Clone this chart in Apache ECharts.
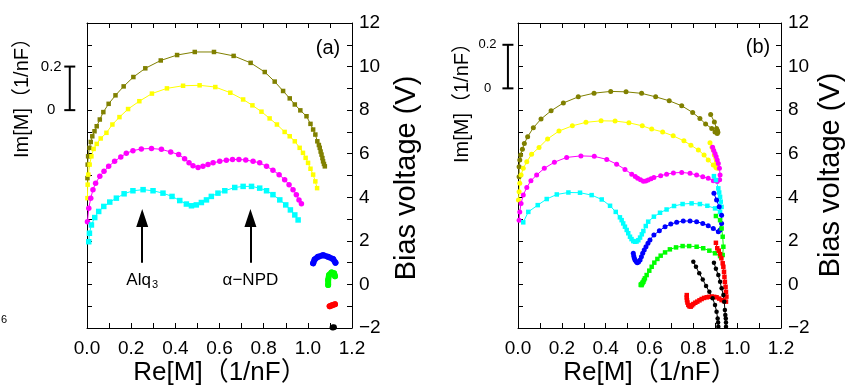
<!DOCTYPE html>
<html><head><meta charset="utf-8">
<script src="https://cdn.jsdelivr.net/npm/echarts@6/dist/echarts.min.js"></script>
<style>html,body{margin:0;padding:0;background:#fff}#c{width:845px;height:390px}</style>
</head><body><div id="c"></div>
<script>
// ---- tick labels ----
const X_LABELS = ['0.0','0.2','0.4','0.6','0.8','1.0','1.2'];
const Y_LABELS = ['\u22122','0','2','4','6','8','10','12'];

// ---- panel (a): [Re[M], bias-offset Im[M] (in bias-voltage axis units)] ----
const A_OLIVE = [[0.002,4.88],[0.003,5.50],[0.005,5.88],[0.011,6.27],[0.017,6.54],[0.024,6.80],[0.034,7.03],[0.044,7.26],[0.058,7.57],[0.074,7.91],[0.098,8.29],[0.129,8.68],[0.166,9.09],[0.210,9.52],[0.264,9.92],[0.334,10.28],[0.408,10.53],[0.488,10.67],[0.575,10.67],[0.664,10.49],[0.741,10.17],[0.805,9.75],[0.850,9.31],[0.888,8.88],[0.918,8.54],[0.941,8.26],[0.966,7.99],[0.994,7.72],[1.012,7.37],[1.024,7.11],[1.034,6.88],[1.043,6.57],[1.050,6.40],[1.054,6.27],[1.058,6.10],[1.062,5.96],[1.066,5.80],[1.069,5.65],[1.073,5.53],[1.077,5.42]];
const A_YELLOW = [[0.002,3.96],[0.003,4.58],[0.006,5.04],[0.012,5.50],[0.020,5.88],[0.030,6.22],[0.044,6.45],[0.062,6.70],[0.088,6.96],[0.115,7.34],[0.147,7.68],[0.186,8.05],[0.237,8.41],[0.294,8.76],[0.362,9.00],[0.435,9.12],[0.510,9.14],[0.581,9.06],[0.649,8.80],[0.707,8.49],[0.749,8.22],[0.790,7.93],[0.827,7.62],[0.860,7.34],[0.895,7.00],[0.918,6.80],[0.941,6.57],[0.963,6.27],[0.978,6.04],[0.990,5.81],[1.001,5.58],[1.012,5.31],[1.024,5.04],[1.034,4.73],[1.042,4.42]];
const A_MAGENTA = [[0.002,2.88],[0.008,3.50],[0.017,3.96],[0.027,4.35],[0.039,4.65],[0.058,4.96],[0.077,5.19],[0.098,5.42],[0.125,5.65],[0.153,5.85],[0.178,6.02],[0.208,6.14],[0.246,6.22],[0.292,6.24],[0.337,6.20],[0.379,6.08],[0.415,5.96],[0.442,5.77],[0.462,5.59],[0.480,5.45],[0.503,5.37],[0.525,5.42],[0.548,5.50],[0.571,5.58],[0.601,5.65],[0.631,5.70],[0.659,5.73],[0.688,5.74],[0.719,5.71],[0.752,5.65],[0.782,5.58],[0.813,5.42],[0.842,5.24],[0.870,5.04],[0.895,4.81],[0.915,4.58],[0.933,4.35],[0.948,4.12],[0.960,3.88],[0.971,3.70]];
const A_CYAN = [[0.008,1.96],[0.011,2.35],[0.020,2.73],[0.035,3.07],[0.053,3.35],[0.076,3.58],[0.103,3.78],[0.133,3.96],[0.168,4.16],[0.208,4.30],[0.254,4.35],[0.299,4.30],[0.344,4.19],[0.385,4.04],[0.420,3.85],[0.450,3.69],[0.473,3.61],[0.495,3.65],[0.518,3.76],[0.541,3.88],[0.563,4.04],[0.593,4.19],[0.624,4.30],[0.669,4.45],[0.707,4.50],[0.745,4.50],[0.782,4.42],[0.813,4.30],[0.842,4.12],[0.873,3.88],[0.900,3.65],[0.921,3.42],[0.941,3.19],[0.956,2.96]];
const A_BLUE = [[1.024,0.97],[1.031,1.15],[1.046,1.27],[1.069,1.34],[1.091,1.27],[1.114,1.17],[1.125,1.00]];
const A_GREEN = [[1.092,-0.03],[1.092,0.20],[1.096,0.43],[1.107,0.55],[1.119,0.51],[1.123,0.38]];
const A_RED = [[1.099,-1.00],[1.111,-0.95],[1.123,-0.91]];
const A_BLACK = [[1.112,-1.98],[1.118,-1.96]];

// ---- panel (b) ----
const B_OLIVE = [[0.005,4.94],[0.005,5.40],[0.008,5.71],[0.012,5.94],[0.020,6.20],[0.029,6.47],[0.044,6.78],[0.070,7.19],[0.105,7.59],[0.151,7.97],[0.207,8.33],[0.275,8.61],[0.347,8.78],[0.423,8.86],[0.493,8.84],[0.564,8.77],[0.628,8.61],[0.690,8.43],[0.747,8.20],[0.797,7.89],[0.830,7.62],[0.856,7.36],[0.884,7.16],[0.899,7.00],[0.909,6.93],[0.912,6.98],[0.910,7.06],[0.906,7.16],[0.896,7.46],[0.879,7.80]];
const B_YELLOW = [[0.002,3.87],[0.005,4.25],[0.008,4.64],[0.014,5.02],[0.024,5.33],[0.040,5.63],[0.062,5.97],[0.096,6.29],[0.135,6.68],[0.187,7.04],[0.248,7.28],[0.310,7.44],[0.379,7.51],[0.443,7.50],[0.506,7.42],[0.567,7.28],[0.610,7.13],[0.660,7.00],[0.708,6.82],[0.757,6.59],[0.789,6.39],[0.823,6.17],[0.849,5.94],[0.868,5.71],[0.891,5.48],[0.903,5.37],[0.909,5.33],[0.909,5.48],[0.906,5.63],[0.903,5.78],[0.896,5.94],[0.891,6.17],[0.885,6.30],[0.876,6.50]];
const B_MAGENTA = [[0.005,2.95],[0.008,3.33],[0.014,3.72],[0.024,4.10],[0.040,4.45],[0.059,4.76],[0.085,5.02],[0.120,5.33],[0.166,5.61],[0.222,5.83],[0.287,5.90],[0.348,5.88],[0.405,5.74],[0.450,5.52],[0.488,5.28],[0.519,5.06],[0.535,4.95],[0.546,4.87],[0.559,4.80],[0.572,4.74],[0.583,4.75],[0.594,4.79],[0.607,4.85],[0.620,4.91],[0.651,4.99],[0.678,5.06],[0.709,5.12],[0.747,5.14],[0.785,5.10],[0.815,5.02],[0.843,4.94],[0.868,4.87],[0.891,4.76],[0.909,4.72],[0.920,4.80],[0.922,5.02],[0.919,5.33],[0.914,5.55],[0.909,5.71],[0.904,5.87],[0.899,6.01],[0.893,6.15],[0.888,6.30]];
const B_CYAN = [[0.024,2.85],[0.047,3.33],[0.090,3.64],[0.131,3.92],[0.177,4.13],[0.230,4.22],[0.283,4.21],[0.336,4.10],[0.382,3.90],[0.420,3.61],[0.446,3.33],[0.465,3.08],[0.473,2.95],[0.480,2.80],[0.488,2.65],[0.496,2.50],[0.503,2.35],[0.511,2.19],[0.518,2.08],[0.526,1.99],[0.534,1.96],[0.541,1.97],[0.549,2.03],[0.557,2.15],[0.565,2.30],[0.572,2.45],[0.583,2.68],[0.594,2.88],[0.620,3.11],[0.648,3.29],[0.678,3.44],[0.712,3.60],[0.751,3.69],[0.792,3.72],[0.830,3.69],[0.864,3.61],[0.899,3.49],[0.922,3.33],[0.929,3.56],[0.925,3.80],[0.922,4.02],[0.918,4.22],[0.914,4.41],[0.903,4.79],[0.894,4.97]];
const B_BLUE = [[0.526,1.43],[0.528,1.30],[0.531,1.20],[0.534,1.12],[0.539,1.05],[0.544,1.00],[0.550,1.03],[0.557,1.12],[0.563,1.27],[0.569,1.43],[0.576,1.58],[0.584,1.73],[0.593,1.89],[0.602,2.04],[0.620,2.27],[0.645,2.46],[0.671,2.65],[0.697,2.77],[0.724,2.85],[0.754,2.91],[0.785,2.91],[0.815,2.88],[0.843,2.80],[0.868,2.69],[0.891,2.57],[0.914,2.42],[0.922,2.50],[0.929,2.80],[0.929,3.18],[0.918,3.56],[0.906,3.87],[0.894,4.18]];
const B_GREEN = [[0.560,-0.02],[0.562,0.00],[0.564,-0.03],[0.566,0.03],[0.568,0.08],[0.572,0.12],[0.575,0.20],[0.579,0.28],[0.587,0.43],[0.599,0.63],[0.610,0.81],[0.622,1.00],[0.636,1.17],[0.651,1.32],[0.671,1.47],[0.693,1.61],[0.721,1.70],[0.751,1.76],[0.781,1.76],[0.815,1.73],[0.845,1.66],[0.873,1.55],[0.899,1.43],[0.922,1.30],[0.934,1.35],[0.937,1.73],[0.934,2.19],[0.929,2.57],[0.922,2.95],[0.903,3.14]];
const B_RED = [[0.770,-0.49],[0.770,-0.60],[0.771,-0.72],[0.773,-0.83],[0.777,-0.94],[0.782,-1.00],[0.788,-1.02],[0.794,-0.96],[0.800,-0.90],[0.809,-0.84],[0.818,-0.79],[0.828,-0.73],[0.838,-0.67],[0.849,-0.62],[0.861,-0.59],[0.872,-0.57],[0.884,-0.56],[0.895,-0.57],[0.906,-0.59],[0.918,-0.65],[0.929,-0.72],[0.940,-0.76],[0.949,-0.79],[0.951,-0.56],[0.949,-0.34],[0.947,-0.11],[0.944,0.12],[0.942,0.35],[0.940,0.58],[0.937,0.81],[0.934,0.97],[0.928,1.20],[0.922,1.39],[0.916,1.55],[0.909,1.66],[0.903,1.91]];
const B_BLACK1 = [[0.800,1.04],[0.812,0.81],[0.827,0.51],[0.843,0.23],[0.858,-0.07],[0.873,-0.34],[0.888,-0.64],[0.899,-0.94],[0.906,-1.25],[0.911,-1.56],[0.913,-1.75],[0.914,-1.94],[0.916,-2.05]];
const B_BLACK2 = [[0.894,1.00],[0.903,0.72],[0.914,0.43],[0.922,0.12],[0.929,-0.18],[0.937,-0.49],[0.941,-0.79],[0.944,-1.17],[0.946,-1.40],[0.948,-1.56],[0.949,-1.75],[0.949,-1.94],[0.950,-2.05]];

// ---- annotations ----
const ARROW_X = [0.25, 0.74];
const ARROW_Y = [1.0, 3.05];
const LABEL_Y = 0.2;
const SCALE_A = {x:-0.078, y0:8, y1:10, labelX:-0.162};
const SCALE_B = {x:-0.046, y0:9, y1:11, labelX:-0.139};

const FONT = '"Liberation Sans", Arial, sans-serif';
const TFONT = '"Liberation Sans", "Noto Sans CJK JP", sans-serif';

function xAx(grid, pos, labels) {
  return {type:'value', gridIndex:grid, position:pos, min:0, max:1.2, interval:0.1,
    axisLine:{show:true, onZero:false, lineStyle:{color:'#000', width:1}},
    axisTick:{show:true, inside:true, length:5, lineStyle:{color:'#000', width:1}},
    axisLabel:{show:labels, margin:11, fontSize:19, fontFamily:FONT, color:'#000',
      formatter: v => { const i = Math.round(v*10); return i%2===0 ? X_LABELS[i/2] : ''; }},
    splitLine:{show:false}};
}
function yAx(grid, pos, labels) {
  return {type:'value', gridIndex:grid, position:pos, min:-2, max:12, interval:1,
    axisLine:{show:true, onZero:false, lineStyle:{color:'#000', width:1}},
    axisTick:{show:true, inside:true, length:5, lineStyle:{color:'#000', width:1}},
    axisLabel:{show:labels, margin:7, fontSize:19, fontFamily:FONT, color:'#000',
      formatter: v => { const i = Math.round(v)+2; return i%2===0 ? Y_LABELS[i/2] : ''; }},
    splitLine:{show:false}};
}
function ser(data, color, symbol, size, panel, extra) {
  return Object.assign({type:'line', xAxisIndex: panel*2, yAxisIndex: panel*2, data,
    symbol, symbolSize:size, showSymbol:true, showAllSymbol:true, animation:false,
    lineStyle:{color, width:1}, itemStyle:{color}, emphasis:{disabled:true}}, extra||{});
}
function thick(data, color, panel) {
  return ser(data, color, 'circle', 6, panel, {lineStyle:{color, width:6, cap:'round', join:'round'}});
}

const series = [
  ser(A_OLIVE, '#808000', 'rect', 4.5, 0),
  ser(A_YELLOW, '#ffff00', 'rect', 4.5, 0),
  ser(A_MAGENTA, '#ff00ff', 'circle', 5.5, 0),
  ser(A_CYAN, '#00ffff', 'rect', 5.5, 0, {
    markLine:{silent:true, animation:false, symbol:['none','triangle'], symbolSize:[12,18],
      label:{show:false}, lineStyle:{color:'#000', width:2, type:'solid'},
      data: ARROW_X.map(x => [{coord:[x, ARROW_Y[0]]},{coord:[x, ARROW_Y[1]]}])}
  }),
  thick(A_BLUE, '#0000ff', 0),
  thick(A_GREEN, '#00ff00', 0),
  thick(A_RED, '#ff0000', 0),
  ser(A_BLACK, '#000000', 'circle', 6, 0),
  ser(B_OLIVE, '#808000', 'circle', 5, 1),
  ser(B_YELLOW, '#ffff00', 'circle', 5, 1),
  ser(B_MAGENTA, '#ff00ff', 'circle', 5, 1),
  ser(B_CYAN, '#00ffff', 'rect', 4.5, 1),
  ser(B_BLUE, '#0000ff', 'circle', 5, 1),
  ser(B_GREEN, '#00ff00', 'rect', 4.5, 1),
  ser(B_RED, '#ff0000', 'rect', 4.5, 1),
  ser(B_BLACK1, '#000000', 'circle', 4.5, 1),
  ser(B_BLACK2, '#000000', 'circle', 4.5, 1)
];

const chart = echarts.init(document.getElementById('c'), null, {renderer:'canvas'});
chart.setOption({
  backgroundColor:'#fff', animation:false,
  grid:[{left:87, top:23, width:265, height:305}, {left:518, top:23, width:263, height:305}],
  xAxis:[xAx(0,'bottom',true), xAx(0,'top',false), xAx(1,'bottom',true), xAx(1,'top',false)],
  yAxis:[yAx(0,'right',true), yAx(0,'left',false), yAx(1,'right',true), yAx(1,'left',false)],
  series
});

function scaleBar(panel, s, fs) {
  const f = {xAxisIndex: panel*2, yAxisIndex: panel*2};
  const p0 = chart.convertToPixel(f, [s.x, s.y0]);
  const p1 = chart.convertToPixel(f, [s.x, s.y1]);
  const l0 = chart.convertToPixel(f, [s.labelX, s.y0]);
  const l1 = chart.convertToPixel(f, [s.labelX, s.y1]);
  const st = {stroke:'#000', lineWidth:2};
  return [
    {type:'line', shape:{x1:p0[0], y1:p0[1], x2:p1[0], y2:p1[1]}, style:st},
    {type:'line', shape:{x1:p0[0]-5.5, y1:p0[1], x2:p0[0]+5.5, y2:p0[1]}, style:st},
    {type:'line', shape:{x1:p1[0]-5.5, y1:p1[1], x2:p1[0]+5.5, y2:p1[1]}, style:st},
    {type:'text', x:l1[0], y:l1[1], style:{text:'0.2', font:fs+'px '+FONT, fill:'#000', textAlign:'center', textVerticalAlign:'middle'}},
    {type:'text', x:l0[0], y:l0[1], style:{text:'0', font:fs+'px '+FONT, fill:'#000', textAlign:'center', textVerticalAlign:'middle'}}
  ];
}
function annot(x, y, text) {
  const p = chart.convertToPixel({xAxisIndex:0, yAxisIndex:0}, [x, y]);
  return {type:'text', x:p[0], y:p[1], z:100, style:{text, fill:'#000', textAlign:'center', textVerticalAlign:'middle',
    rich:{a:{fontSize:17, fontFamily:FONT, fill:'#000'}, s:{fontSize:11, fontFamily:FONT, fill:'#000', padding:[9,0,0,1]}}}};
}
function txt(t, x, y, size, rot) {
  return {type:'text', x, y, rotation: rot||0, style:{text:t, font:size+'px '+TFONT, fill:'#000', textAlign:'center', textVerticalAlign:'middle'}};
}
const R = Math.PI/2;
chart.setOption({graphic:[
  ...scaleBar(0, SCALE_A, 15),
  ...scaleBar(1, SCALE_B, 13),
  annot(ARROW_X[0], LABEL_Y, '{a|Alq}{s|3}'),
  annot(ARROW_X[1], LABEL_Y, '{a|\u03b1\u2212NPD}'),
  txt('(a)', 328, 48, 20),
  txt('(b)', 758, 47, 20),
  txt('Re[M]\uff081/nF\uff09', 220, 373, 26),
  txt('Re[M]\uff081/nF\uff09', 650, 373, 26),
  txt('Bias voltage (V)', 407, 178, 29, R),
  txt('Bias voltage (V)', 831, 175, 29, R),
  txt('Im[M]\uff081/nF\uff09', 22, 93, 20, R),
  txt('Im[M]\uff081/nF\uff09', 462, 98, 20, R),
  txt('6', 4, 320, 11)
]});
</script></body></html>
